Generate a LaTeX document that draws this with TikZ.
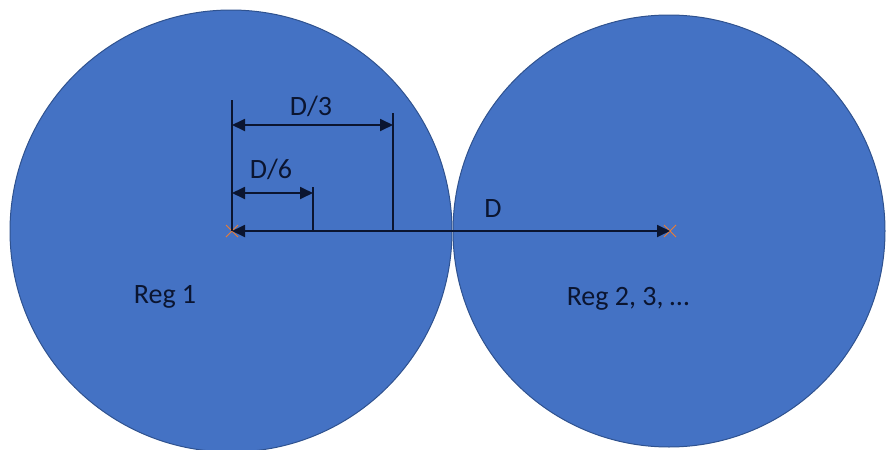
\documentclass[tikz,border=0pt]{standalone}
\usepackage{fontspec}
\setmainfont{Carlito}
\usetikzlibrary{arrows.meta}
\definecolor{fillblue}{HTML}{4472C4}
\definecolor{edgeblue}{HTML}{2F528F}
\definecolor{xorange}{HTML}{ED7D31}
\definecolor{ink}{HTML}{0B1530}
\begin{document}
\begin{tikzpicture}[x=1pt,y=-1pt,
  region/.style={circle, draw=edgeblue, fill=fillblue, line width=1pt, inner sep=0pt},
  extline/.style={draw=ink, line width=1.3pt},
  dimarrow/.style={draw=ink, line width=1.8pt, {Triangle[length=13pt,width=12pt]}-{Triangle[length=13pt,width=12pt]}},
  lbl/.style={text=ink, font=\fontsize{28}{32}\selectfont, inner sep=0pt, anchor=base},
  xmark/.style={draw=xorange, line width=0.8pt}]
\useasboundingbox (0,0) rectangle (887,450);
\node[region, minimum size=442pt] (c1) at (231,231) {};
\node[region, minimum size=432pt] (c2) at (669,231) {};
% centres
\coordinate (o1) at (232,231);
\coordinate (o2) at (670,231);
% orange crosses
\draw[xmark] ([shift={(-6,-6)}]o1) -- ([shift={(6,6)}]o1) ([shift={(-6,6)}]o1) -- ([shift={(6,-6)}]o1);
\draw[xmark] ([shift={(-6,-6)}]o2) -- ([shift={(6,6)}]o2) ([shift={(-6,6)}]o2) -- ([shift={(6,-6)}]o2);
% extension lines
\coordinate (e0) at (232,100);
\coordinate (e3t) at (393,113);
\coordinate (e3b) at (393,231);
\coordinate (e6t) at (313,187);
\coordinate (e6b) at (313,231);
\draw[extline] (e0) -- (o1);
\draw[extline] (e3t) -- (e3b);
\draw[extline] (e6t) -- (e6b);
% dimension arrows
\coordinate (a3l) at (232,125);
\coordinate (a3r) at (393,125);
\coordinate (a6l) at (232,193);
\coordinate (a6r) at (313,193);
\draw[dimarrow] (a3l) -- (a3r);
\draw[dimarrow] (a6l) -- (a6r);
\draw[dimarrow] (o1) -- (o2);
% labels
\node[lbl] (l3) at (311,115) {D/3};
\node[lbl] (l6) at (271,178) {D/6};
\node[lbl] (lD) at (493,217) {D};
\node[lbl] (r1) at (165,303) {Reg 1};
\node[lbl] (r2) at (628,305) {Reg 2, 3, …};
\end{tikzpicture}
\end{document}
